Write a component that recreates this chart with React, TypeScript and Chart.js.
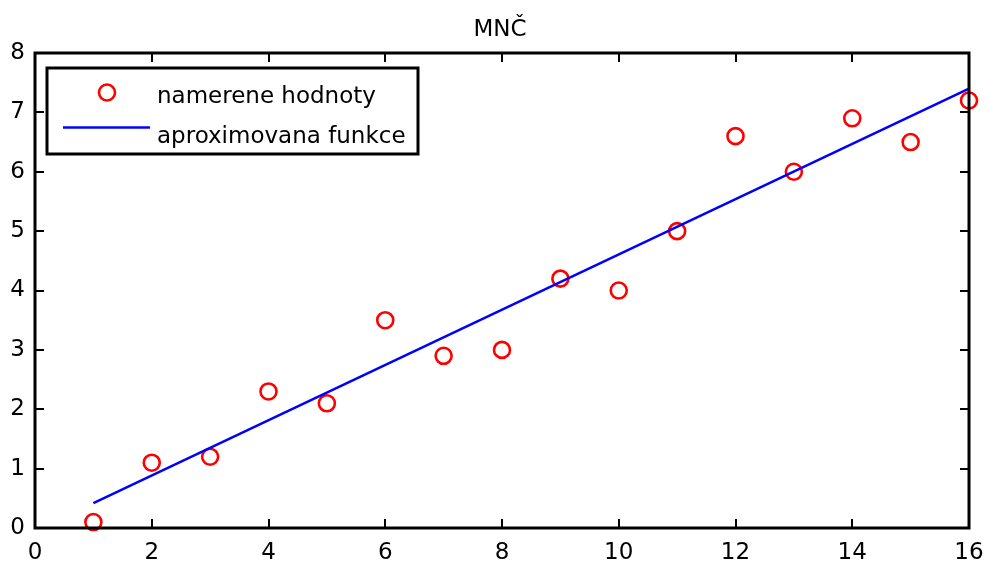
import React, { useEffect, useRef } from "react";
import { Chart, registerables } from "chart.js";

Chart.register(...registerables);

const titleText = "MNČ";
const xValues = [1, 2, 3, 4, 5, 6, 7, 8, 9, 10, 11, 12, 13, 14, 15, 16];
const measured = [0.1, 1.1, 1.2, 2.3, 2.1, 3.5, 2.9, 3.0, 4.2, 4.0, 5.0, 6.6, 6.0, 6.9, 6.5, 7.2];
const fitX = [1, 16];
const fitY = [0.42, 7.4];
const legendLabels = ["namerene hodnoty", "aproximovana funkce"];
const xTicks = [0, 2, 4, 6, 8, 10, 12, 14, 16];
const yTicks = [0, 1, 2, 3, 4, 5, 6, 7, 8];

const FONT = "'DejaVu Sans', sans-serif";
const FONT_SIZE = 23;

const framePlugin = {
  id: "frame",
  afterDraw(chart: any) {
    const { ctx, chartArea, scales } = chart;
    const { left, right, top, bottom } = chartArea;
    ctx.save();
    ctx.strokeStyle = "#000";
    ctx.lineWidth = 2;
    const tl = 9;
    ctx.beginPath();
    xTicks.forEach((v) => {
      const px = Math.round(scales.x.getPixelForValue(v));
      ctx.moveTo(px, bottom);
      ctx.lineTo(px, bottom - tl);
      ctx.moveTo(px, top);
      ctx.lineTo(px, top + tl);
    });
    yTicks.forEach((v) => {
      const py = Math.round(scales.y.getPixelForValue(v));
      ctx.moveTo(left, py);
      ctx.lineTo(left + tl, py);
      ctx.moveTo(right, py);
      ctx.lineTo(right - tl, py);
    });
    ctx.stroke();
    ctx.lineWidth = 3;
    ctx.strokeRect(left, top, right - left, bottom - top);

    // title
    ctx.fillStyle = "#000";
    ctx.font = `${FONT_SIZE}px ${FONT}`;
    ctx.textAlign = "center";
    ctx.textBaseline = "alphabetic";
    ctx.fillText(titleText, 500, 36);

    // legend
    ctx.fillStyle = "#fff";
    ctx.fillRect(47, 68, 371, 86);
    ctx.lineWidth = 3;
    ctx.strokeStyle = "#000";
    ctx.strokeRect(47, 68, 371, 86);
    ctx.beginPath();
    ctx.lineWidth = 2.6;
    ctx.strokeStyle = "#ff0000";
    ctx.arc(107, 92.5, 8, 0, Math.PI * 2);
    ctx.stroke();
    ctx.beginPath();
    ctx.lineWidth = 2.5;
    ctx.strokeStyle = "#0000ff";
    ctx.moveTo(63, 127.5);
    ctx.lineTo(150, 127.5);
    ctx.stroke();
    ctx.fillStyle = "#000";
    ctx.textAlign = "left";
    ctx.fillText(legendLabels[0], 157, 103);
    ctx.fillText(legendLabels[1], 157, 143);
    ctx.restore();
  },
};

export default function App() {
  const ref = useRef<HTMLCanvasElement>(null);
  useEffect(() => {
    document.body.style.margin = "0";
    const canvas = ref.current!;
    const chart = new Chart(canvas, {
      type: "scatter",
      data: {
        datasets: [
          {
            type: "scatter",
            label: legendLabels[0],
            data: xValues.map((x, i) => ({ x, y: measured[i] })),
            pointStyle: "circle",
            pointRadius: 8,
            pointBorderWidth: 2.6,
            borderColor: "#ff0000",
            backgroundColor: "rgba(0,0,0,0)",
            pointBackgroundColor: "rgba(0,0,0,0)",
            pointBorderColor: "#ff0000",
            clip: false,
            order: 2,
          } as any,
          {
            type: "line",
            label: legendLabels[1],
            data: fitX.map((x, i) => ({ x, y: fitY[i] })),
            borderColor: "#0000ff",
            borderWidth: 2.5,
            pointRadius: 0,
            fill: false,
            clip: false,
            order: 1,
          } as any,
        ],
      },
      options: {
        responsive: false,
        animation: false,
        devicePixelRatio: 1,
        layout: { padding: { top: 53, right: 20, left: 0, bottom: 0 } },
        plugins: {
          legend: { display: false },
          title: { display: false },
          tooltip: { enabled: false },
        },
        scales: {
          x: {
            type: "linear",
            min: 0,
            max: 16,
            border: { display: false },
            grid: { display: false, drawTicks: false },
            afterBuildTicks: (s: any) => {
              s.ticks = xTicks.map((v) => ({ value: v }));
            },
            afterFit: (s: any) => {
              s.height = 34;
              s.paddingLeft = 0;
              s.paddingRight = 0;
            },
            ticks: {
              color: "#000",
              font: { family: FONT, size: FONT_SIZE },
              padding: 11,
              maxRotation: 0,
              autoSkip: false,
            },
          },
          y: {
            type: "linear",
            min: 0,
            max: 8,
            border: { display: false },
            grid: { display: false, drawTicks: false },
            afterBuildTicks: (s: any) => {
              s.ticks = yTicks.map((v) => ({ value: v }));
            },
            afterFit: (s: any) => {
              s.width = 35;
              s.paddingTop = 0;
              s.paddingBottom = 0;
            },
            ticks: {
              color: "#000",
              font: { family: FONT, size: FONT_SIZE },
              padding: 10,
              autoSkip: false,
            },
          },
        },
      },
      plugins: [framePlugin],
    });
    return () => chart.destroy();
  }, []);
  return (
    <canvas
      ref={ref}
      width={989}
      height={562}
      style={{ display: "block", width: 989, height: 562 }}
    />
  );
}
